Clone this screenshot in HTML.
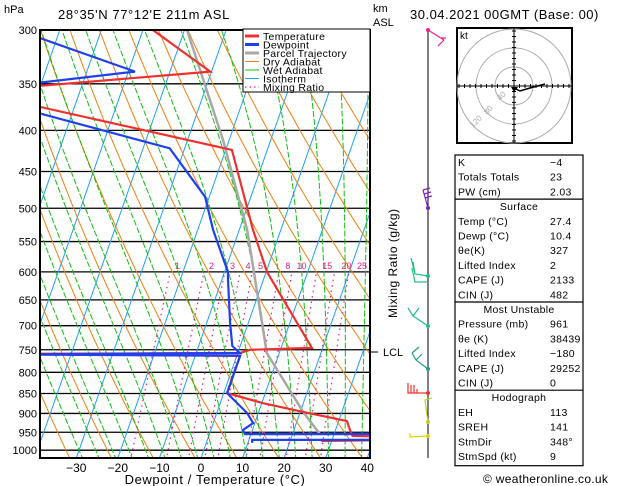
<!DOCTYPE html>
<html><head><meta charset="utf-8"><style>
body{margin:0;background:#fff;}
svg{display:block;font-family:"Liberation Sans",sans-serif;}
</style></head><body>
<svg id="c" width="629" height="486" viewBox="0 0 629 486" xmlns="http://www.w3.org/2000/svg">
<defs><clipPath id="clip"><rect x="40" y="30" width="330" height="428"/></clipPath></defs>
<rect width="629" height="486" fill="#fff"/>
<g id="bg" clip-path="url(#clip)"></g>
<g id="prof" clip-path="url(#clip)"></g>
<g id="axes"></g>
</svg>
<script>
// ---- data ----
const pressureTicks=[300,350,400,450,500,550,600,650,700,750,800,850,900,950,1000];
const tempTicks=[-30,-20,-10,0,10,20,30,40];
const mixRatios=[1,2,3,4,5,8,10,15,20,25];
// Temperature profile (hPa, °C)
const tempP=[300,338,352,361,374,423,532,600,746,750,757,759,763,849,874,896,920,944,960,963,971,974];
const tempT=[-47.6,-30.3,-70,-79,-68.3,-18.5,-6.7,0.2,17.4,2.7,0.5,-57,0.8,0.8,10.3,20.7,32,33.5,34.6,46.1,46.3,27.5];
// Dewpoint profile
const dewP=[307,338,349,361,381,421,484,532,600,614,694,742,757,760,763,849,899,925,944,955,955,971,971,979];
const dewT=[-74.1,-48.4,-70.7,-79,-67.8,-33.6,-21,-16.3,-9.2,-8.5,-4.4,-1.9,0.5,-57,0.8,0.8,7.3,9.6,7.7,8.6,45.8,46.3,10.8,11];
// Parcel trajectory
const parcelP=[300,411,532,757,896,955];
const parcelT=[-39.4,-21.5,-8.1,7.0,20.7,26.6];

// ---- scales ----
const X0=40,X1=370,Y0=30,Y1=458;
function yP(p){return 30+349*Math.log(p/300);}
function xT(T,p){return 201+4.157*T+0.35*(Y1-yP(p));}
const NS="http://www.w3.org/2000/svg";
function mk(tag,attrs,parent){const e=document.createElementNS(NS,tag);for(const k in attrs)e.setAttribute(k,attrs[k]);parent.appendChild(e);return e;}
const bg=document.getElementById('bg'),prof=document.getElementById('prof'),axes=document.getElementById('axes'),svg=document.getElementById('c');
function pathFrom(ps,ts){return ps.map((p,i)=>(i?'L':'M')+xT(ts[i],p).toFixed(1)+','+yP(p).toFixed(1)).join('');}

// isobars
pressureTicks.forEach(p=>{const l=mk('line',{x1:X0,x2:X1,y1:yP(p),y2:yP(p),stroke:'#000','stroke-width':1.3},bg);

});
// isotherms
for(let T=-160;T<=40;T+=10){const l=mk('line',{x1:xT(T,1030),y1:yP(1030),x2:xT(T,290),y2:yP(290),stroke:'#1ea0ff','stroke-width':1},bg);

}
// dry adiabats
for(let th=230;th<=520;th+=10){const ps=[],ts=[];for(let p=1030;p>=290;p-=10){ps.push(p);ts.push(th*Math.pow(p/1000,0.2857)-273.15);}
const e=mk('path',{d:pathFrom(ps,ts),fill:'none',stroke:'#f08010','stroke-width':1},bg);

}
// wet adiabats
function es(T){return 6.112*Math.exp(17.67*T/(T+243.5));}
function moistLapse(T,p){const Tk=T+273.15,rs=0.622*es(T)/(p-es(T));const Rd=287,cp=1004,L=2.5e6;
return (Rd*Tk+L*rs)/(p*(cp+L*L*rs*0.622/(Rd*Tk*Tk)));}
for(let T0=-30;T0<=40;T0+=4){let T,ps=[],ts=[];
let Tb=T0;for(let p=1000;p<1030;p+=5){Tb+=moistLapse(Tb,p)*5;}
T=Tb;for(let p=1030;p>=290;p-=5){ps.push(p);ts.push(T);T-=moistLapse(T,p)*5;}
const e=mk('path',{d:pathFrom(ps,ts),fill:'none',stroke:'#10c010','stroke-width':1,'stroke-dasharray':'6,2'},bg);

}
// mixing ratio lines
mixRatios.forEach(w=>{const ps=[],ts=[];for(let p=1030;p>=600;p-=10){const e=w*p/(622+w);const ln=Math.log(e/6.112);ps.push(p);ts.push(243.5*ln/(17.67-ln));}
const e=mk('path',{d:pathFrom(ps,ts),fill:'none',stroke:'#e0208a','stroke-width':1.2,'stroke-dasharray':'1.5,4'},bg);


const t=mk('text',{x:xT(ts[ts.length-1],600)+7+w*0.25,y:yP(600)-3,'font-size':9,fill:'#e0208a','text-anchor':'middle'},bg);t.textContent=w;

});

// profiles
let e;
e=mk('path',{d:pathFrom(parcelP,parcelT),fill:'none',stroke:'#a8a8a8','stroke-width':2.5},prof);


e=mk('path',{d:pathFrom(tempP,tempT),fill:'none',stroke:'#f03030','stroke-width':2.2},prof);


e=mk('path',{d:pathFrom(dewP,dewT),fill:'none',stroke:'#2040f0','stroke-width':2.2},prof);



// frame
e=mk('rect',{x:X0,y:Y0,width:X1-X0,height:Y1-Y0,fill:'none',stroke:'#000','stroke-width':2},axes);


pressureTicks.forEach(p=>{const t=mk('text',{x:37,y:yP(p)+4,'font-size':11,'text-anchor':'end'},axes);t.textContent=p;

});
tempTicks.forEach(T=>{const x=201+4.157*T;const t=mk('text',{x:x,y:472,'font-size':12,'text-anchor':'middle'},axes);t.textContent=(T<0?'\u2212'+(-T):T);

});
function txt(x,y,s,size,name,extra){const t=mk('text',Object.assign({x:x,y:y,'font-size':size},extra||{}),svg);t.textContent=s;

return t;}
txt(4,13,'hPa',11,'y-axis-unit');
txt(58,19,"28°35'N  77°12'E  211m  ASL",13,'location-title',{'letter-spacing':'0.6'});
txt(373,12,'km',11,'km-label');txt(373,26,'ASL',11,'asl-label');
txt(410,19,'30.04.2021  00GMT  (Base: 00)',13,'date-title',{'letter-spacing':'0.5'});
txt(215,484,'Dewpoint / Temperature (°C)',13,'x-axis-title',{'text-anchor':'middle','letter-spacing':'0.6'});
txt(0,0,'Mixing Ratio (g/kg)',12,'mixing-ratio-axis-title',{transform:'translate(397,318) rotate(-90)','letter-spacing':'0.5'});
mk('line',{x1:370,x2:378,y1:352,y2:352,stroke:'#000'},svg);
txt(383,356,'LCL',11,'lcl-label');

// legend
const lg=mk('g',{},svg);
mk('rect',{x:243,y:29,width:127,height:63,fill:'#fff',stroke:'#000','stroke-width':1},lg);
const legItems=[['Temperature','#f03030',3,''],['Dewpoint','#2040f0',3,''],['Parcel Trajectory','#a8a8a8',3,''],['Dry Adiabat','#f08010',1,''],['Wet Adiabat','#10c010',1,''],['Isotherm','#1ea0ff',1,''],['Mixing Ratio','#e0208a',1.2,'1.5,3']];
legItems.forEach((it,i)=>{const y=36+i*8.5;mk('line',{x1:245,x2:259,y1:y,y2:y,stroke:it[1],'stroke-width':it[2],'stroke-dasharray':it[3]},lg);
const t=mk('text',{x:263,y:y+4,'font-size':10.5,'letter-spacing':'0.3'},lg);t.textContent=it[0];

});

// wind axis & barbs
mk('line',{x1:428,x2:428,y1:30,y2:458,stroke:'#000','stroke-width':1},svg);
const barbs=[[30,'#f0208a','M428,30 L444,40 M444,40 L438,46 M441,38 L446,38'],[208,'#8020c0','M428,208 L423,190 M423,190 L430,188 M424,194 L431,192 M425,198 L432,196'],
[276,'#20c080','M428,276 L415,274 L411,258 M415,274 L413,262 M428,282 L415,282 L412,268'],[326,'#20c080','M428,326 L413,316 L408,308 M413,316 L419,308'],
[369,'#20a080','M428,369 L416,360 L412,353 M412,353 L419,347 M416,360 L422,354'],[393,'#f03030','M428,393 L408,393 L408,383 M411,393 L411,385 M414,393 L414,385 M417,393 L417,389'],
[422,'#c0d020','M428,422 L425,400 L432,398'],[436,'#e0d010','M428,436 L410,437 L410,433']];
barbs.forEach(b=>{const p=mk('path',{d:b[2],fill:'none',stroke:b[1],'stroke-width':1.2},svg);


mk('circle',{cx:428,cy:b[0],r:2,fill:b[1]},svg);});

// hodograph
const hg=mk('g',{},svg);
mk('rect',{x:457,y:28,width:115,height:115,fill:'#fff',stroke:'#000','stroke-width':2},hg);
[19,38,57].forEach(r=>mk('circle',{cx:514,cy:86,r:r,fill:'none',stroke:'#aaa'},hg));
mk('line',{x1:457,x2:572,y1:86,y2:86,stroke:'#000'},hg);mk('line',{x1:514,x2:514,y1:28,y2:143,stroke:'#000'},hg);
for(let i=-10;i<=10;i++){if(!i)continue;const d=i*5.5;mk('line',{x1:514+d,x2:514+d,y1:84,y2:88,stroke:'#000'},hg);mk('line',{x1:512,x2:516,y1:86+d,y2:86+d,stroke:'#000'},hg);}
mk('path',{d:'M514,88 L520,91 L530,88 L545,84',fill:'none',stroke:'#000','stroke-width':1.5},hg);
mk('path',{d:'M511,87 L518,87 L514,92 Z',fill:'#000'},hg);
const kt=mk('text',{x:460,y:39,'font-size':10},hg);kt.textContent='kt';
[['40',500,101],['80',487,115],['120',473,128]].forEach(a=>{const t=mk('text',{x:a[1],y:a[2],'font-size':8,fill:'#aaa',transform:'rotate(-45 '+a[1]+' '+a[2]+')'},hg);t.textContent=a[0];});

// table
const tb=mk('g',{},svg);
const rows=[['K','\u22124'],['Totals Totals','23'],['PW (cm)','2.03'],['#Surface'],['Temp (°C)','27.4'],['Dewp (°C)','10.4'],['θe(K)','327'],['Lifted Index','2'],['CAPE (J)','2133'],['CIN (J)','482'],
['#Most Unstable'],['Pressure (mb)','961'],['θe (K)','38439'],['Lifted Index','\u2212180'],['CAPE (J)','29252'],['CIN (J)','0'],['#Hodograph'],['EH','113'],['SREH','141'],['StmDir','348°'],['StmSpd (kt)','9']];
const rh=14.7,ty0=155;
mk('rect',{x:455,y:ty0,width:128,height:rows.length*rh+2,fill:'none',stroke:'#000','stroke-width':1.2},tb);
rows.forEach((r,i)=>{const y=ty0+i*rh+11;
if(r[0][0]==='#'){mk('line',{x1:455,x2:583,y1:ty0+i*rh,y2:ty0+i*rh,stroke:'#000','stroke-width':1.2},tb);
const t=mk('text',{x:519,y:y,'font-size':10.5,'text-anchor':'middle','letter-spacing':'0.3'},tb);t.textContent=r[0].slice(1);}
else{const t=mk('text',{x:458,y:y,'font-size':10.5,'letter-spacing':'0.3'},tb);t.textContent=r[0];
const v=mk('text',{x:550,y:y,'font-size':10.5,'letter-spacing':'0.3'},tb);v.textContent=r[1];}});
txt(483,483,'© weatheronline.co.uk',12,'copyright',{'letter-spacing':'0.3'});
</script>
</body></html>
